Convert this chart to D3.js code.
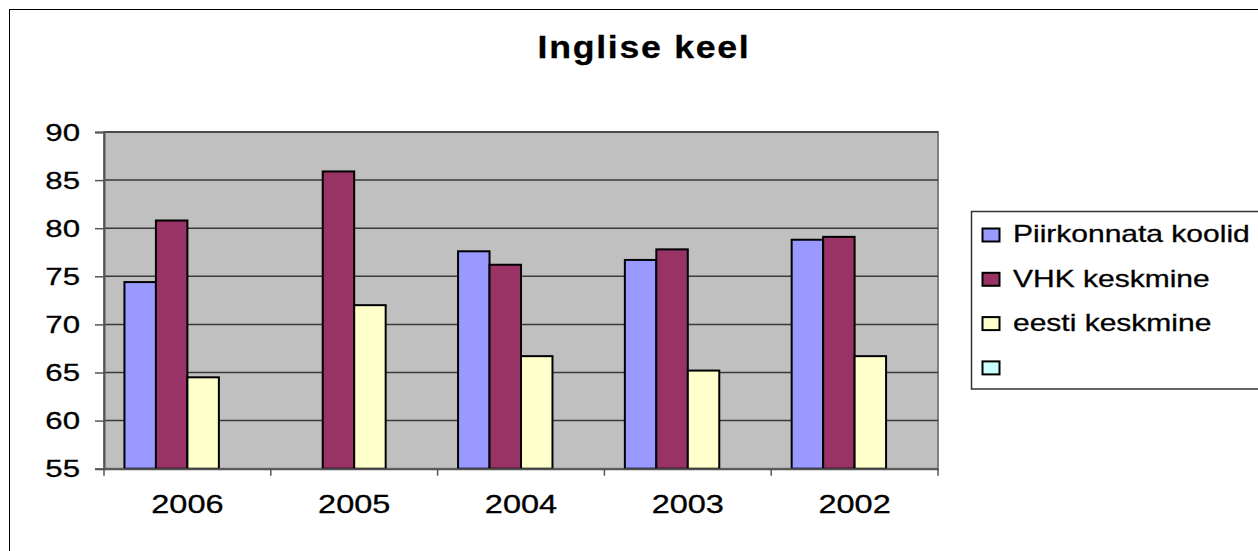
<!DOCTYPE html>
<html>
<head>
<meta charset="utf-8">
<script src="https://cdn.jsdelivr.net/npm/d3@7"></script>
<style>
  html, body { margin: 0; padding: 0; background: #fff; }
  svg { display: block; font-family: "Liberation Sans", Arial, sans-serif; }
</style>
</head>
<body>
<div id="chart"></div>
<script>
// data
const years = ["2006", "2005", "2004", "2003", "2002"];
const seriesNames = ["Piirkonnata koolid", "VHK keskmine", "eesti keskmine", ""];
const piirkonnata = [74.4, null, 77.6, 76.7, 78.8];
const vhk = [80.8, 85.9, 76.2, 77.8, 79.1];
const eesti = [64.5, 72.0, 66.7, 65.2, 66.7];
const tuhi = [null, null, null, null, null];
const yTicks = [55, 60, 65, 70, 75, 80, 85, 90];
const seriesColors = ["#9999FF", "#993366", "#FFFFCC", "#CCFFFF"];

const width = 1258, height = 551;

const series = [piirkonnata, vhk, eesti, tuhi];

const svg = d3.select("#chart").append("svg")
  .attr("width", width)
  .attr("height", height);

// outer frame
svg.append("rect")
  .attr("x", 9.5).attr("y", 9.5)
  .attr("width", width + 10).attr("height", height + 10)
  .attr("fill", "#fff")
  .attr("stroke", "#000")
  .attr("stroke-width", 1);

// the original text is drawn wide, so squash it sideways
function wideText(g, x, y, str, { size = 24, anchor = "start", weight = "normal", spacing = 0, stretch = 1.3 } = {}) {
  return g.append("text")
    .attr("transform", `translate(${x},${y}) scale(${stretch},1)`)
    .attr("text-anchor", anchor)
    .attr("font-size", size)
    .attr("font-weight", weight)
    .attr("letter-spacing", spacing)
    .attr("fill", "#000")
    .attr("stroke", "#000")
    .attr("stroke-width", 0.3)
    .text(str);
}

// title
wideText(svg, 644, 57.5, "Inglise keel", { size: 31, anchor: "middle", weight: "bold", spacing: 1.5, stretch: 1.15 });

const plot = { left: 104, right: 938, top: 132, bottom: 468.7 };

const x = d3.scaleBand()
  .domain(years)
  .range([plot.left, plot.right])
  .paddingInner(0)
  .paddingOuter(0);

const xs = d3.scaleBand()
  .domain(d3.range(series.length))
  .range([0, x.bandwidth()])
  .paddingInner(0)
  .paddingOuter(0.65);

const y = d3.scaleLinear()
  .domain([55, 90])
  .range([plot.bottom, plot.top]);

// plot area
svg.append("rect")
  .attr("x", plot.left).attr("y", plot.top)
  .attr("width", plot.right - plot.left)
  .attr("height", plot.bottom - plot.top)
  .attr("fill", "#C0C0C0")
  .attr("stroke", "#808080")
  .attr("stroke-width", 2);

// gridlines
svg.append("g")
  .selectAll("line")
  .data(yTicks.filter(t => t > 55))
  .join("line")
  .attr("x1", plot.left).attr("x2", plot.right)
  .attr("y1", d => y(d)).attr("y2", d => y(d))
  .attr("stroke", "#3a3a3a")
  .attr("stroke-width", 1.5);

// bars
const groups = svg.append("g")
  .selectAll("g")
  .data(years)
  .join("g")
  .attr("transform", d => `translate(${x(d)},0)`);

groups.selectAll("rect")
  .data((d, i) => series.map((s, k) => ({ k, v: s[i] })).filter(e => e.v != null))
  .join("rect")
  .attr("x", d => xs(d.k))
  .attr("width", xs.bandwidth())
  .attr("y", d => y(d.v))
  .attr("height", d => y(55) - y(d.v))
  .attr("fill", d => seriesColors[d.k])
  .attr("stroke", "#000")
  .attr("stroke-width", 2);

// y axis
const yAxis = svg.append("g")
  .attr("transform", `translate(${plot.left},0)`)
  .call(d3.axisLeft(y).tickValues(yTicks).tickSize(9).tickFormat(""));
yAxis.select(".domain").attr("stroke", "#555").attr("stroke-width", 2);
yAxis.selectAll(".tick line").attr("stroke", "#555").attr("stroke-width", 1.5);

yTicks.forEach(t => wideText(svg, 80, y(t) + 8.5, String(t), { size: 24, anchor: "end" }));

// x axis
const xAxis = svg.append("g")
  .attr("transform", `translate(0,${plot.bottom})`)
  .call(d3.axisBottom(x).tickSize(0).tickFormat(""));
xAxis.select(".domain").attr("stroke", "#555").attr("stroke-width", 2);

svg.append("g")
  .selectAll("line")
  .data(years.map(d => x(d)).concat([plot.right]))
  .join("line")
  .attr("x1", d => d).attr("x2", d => d)
  .attr("y1", plot.bottom).attr("y2", plot.bottom + 7)
  .attr("stroke", "#555")
  .attr("stroke-width", 1.5);

years.forEach(yr => wideText(svg, x(yr) + x.bandwidth() / 2, 513, yr, { size: 25, anchor: "middle" }));

// legend
const legend = svg.append("g");
legend.append("rect")
  .attr("x", 971.5).attr("y", 211.5)
  .attr("width", 300).attr("height", 177.5)
  .attr("fill", "#fff")
  .attr("stroke", "#333")
  .attr("stroke-width", 1.5);

seriesNames.forEach((name, i) => {
  const top = 228.5 + i * 44.3;
  legend.append("rect")
    .attr("x", 982.5).attr("y", top)
    .attr("width", 17).attr("height", 13)
    .attr("fill", seriesColors[i])
    .attr("stroke", "#000")
    .attr("stroke-width", 2);
  if (name) wideText(legend, 1013, top + 13.8, name, { size: 24, stretch: 1.25 });
});
</script>
</body>
</html>
